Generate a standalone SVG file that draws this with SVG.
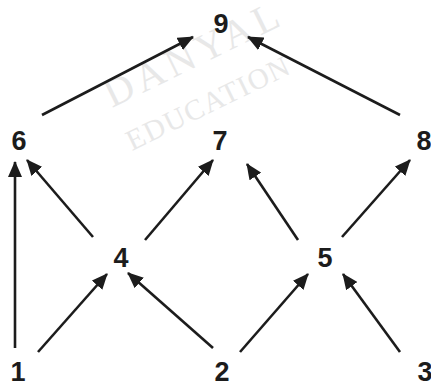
<svg xmlns="http://www.w3.org/2000/svg" width="431" height="387" viewBox="0 0 431 387">
  <style>
    .lbl { font-family: "Liberation Sans", Arial, sans-serif; font-weight: bold; font-size: 27px; fill: #1c1c1c; text-anchor: middle; }
    .edge { stroke: #1c1c1c; stroke-width: 2.6; fill: none; marker-end: url(#head); }
    .wm { font-family: "Liberation Serif", "Times New Roman", serif; fill: #e8e8e8; }
  </style>
  <defs>
    <marker id="head" markerUnits="userSpaceOnUse" markerWidth="16" markerHeight="14" refX="15" refY="7" orient="auto">
      <path d="M0,0 L16,7 L0,14 Z" fill="#1c1c1c"/>
    </marker>
  </defs>
  <rect width="431" height="387" fill="#ffffff"/>

  <!-- watermark -->
  <g id="watermark">
    <text class="wm" font-size="40" letter-spacing="5" transform="translate(112,108) rotate(-26)">DANYAL</text>
    <text class="wm" font-size="29" letter-spacing="1.5" transform="translate(132,151) rotate(-26)">EDUCATION</text>
  </g>

  <!-- connectors -->
  <g id="connectors">
    <line class="edge" x1="42" y1="115" x2="193" y2="37"/>
    <line class="edge" x1="400" y1="115" x2="248" y2="37"/>
    <line class="edge" x1="15" y1="348" x2="15" y2="162"/>
    <line class="edge" x1="93" y1="237" x2="27" y2="160"/>
    <line class="edge" x1="145" y1="240" x2="213" y2="160"/>
    <line class="edge" x1="298" y1="240" x2="247" y2="164"/>
    <line class="edge" x1="342" y1="237" x2="410" y2="160"/>
    <line class="edge" x1="38" y1="352" x2="107" y2="274"/>
    <line class="edge" x1="213" y1="348" x2="128" y2="273"/>
    <line class="edge" x1="240" y1="352" x2="308" y2="274"/>
    <line class="edge" x1="400" y1="352" x2="343" y2="274"/>
  </g>

  <!-- nodes -->
  <g id="n9"><text class="lbl" x="221" y="33">9</text></g>
  <g id="n6"><text class="lbl" x="19" y="150">6</text></g>
  <g id="n7"><text class="lbl" x="220" y="150">7</text></g>
  <g id="n8"><text class="lbl" x="424" y="150">8</text></g>
  <g id="n4"><text class="lbl" x="121" y="267">4</text></g>
  <g id="n5"><text class="lbl" x="325" y="267">5</text></g>
  <g id="n1"><text class="lbl" x="18" y="381">1</text></g>
  <g id="n2"><text class="lbl" x="222" y="381">2</text></g>
  <g id="n3"><text class="lbl" x="425" y="381">3</text></g>
</svg>
